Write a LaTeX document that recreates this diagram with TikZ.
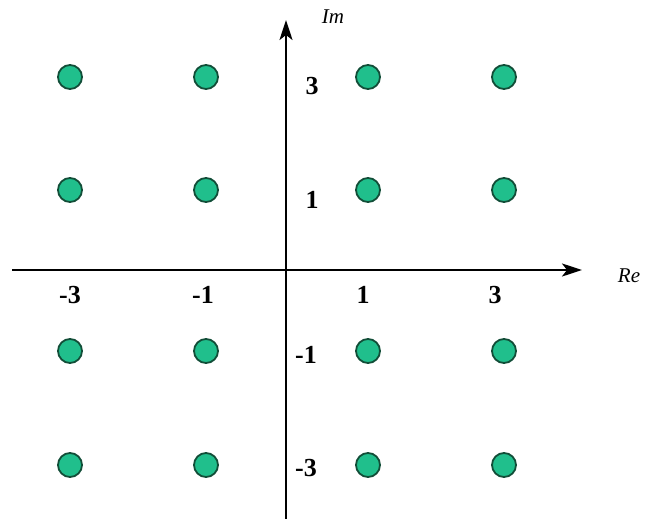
\documentclass[tikz,border=0pt]{standalone}
\usepackage{fontspec}
\setmainfont{Liberation Serif}
\usetikzlibrary{arrows.meta}
\definecolor{dotfill}{HTML}{20BF8C}
\definecolor{dotline}{HTML}{124E38}
\begin{document}
\begin{tikzpicture}[x=1pt,y=-1pt,
  pt/.style={circle,draw=dotline,line width=1.8pt,fill=dotfill,minimum size=24pt,inner sep=0pt},
  axis/.style={line width=2.2pt,-{Stealth[length=20pt,width=13pt,inset=5pt]}},
  num/.style={font=\fontsize{26}{26}\selectfont\bfseries,inner sep=0pt},
  axlab/.style={font=\fontsize{21}{21}\selectfont\itshape,inner sep=0pt}]
\useasboundingbox[fill=white] (0,0) rectangle (659,519);
\coordinate (xs) at (12,270);
\coordinate (xe) at (582,270);
\coordinate (ys) at (286,519);
\coordinate (ye) at (286,20);
\draw[axis] (xs) -- (xe);
\draw[axis] (ys) -- (ye);
\foreach \x/\i in {70/a,206/b,368/c,504/d}{
  \foreach \y/\j in {77/1,190/2,351/3,465/4}{
    \node[pt] (p\i\j) at (\x,\y) {};
  }
}
\node[axlab] (im) at (333,17) {Im};
\node[axlab] (re) at (629,276) {Re};
\node[num] (y3) at (312,86) {3};
\node[num] (y1) at (312,200) {1};
\node[num] (ym1) at (306,355) {-1};
\node[num] (ym3) at (306,468) {-3};
\node[num] (xm3) at (70,295) {-3};
\node[num] (xm1) at (203,295) {-1};
\node[num] (x1) at (363,295) {1};
\node[num] (x3) at (495,295) {3};
\end{tikzpicture}
\end{document}
